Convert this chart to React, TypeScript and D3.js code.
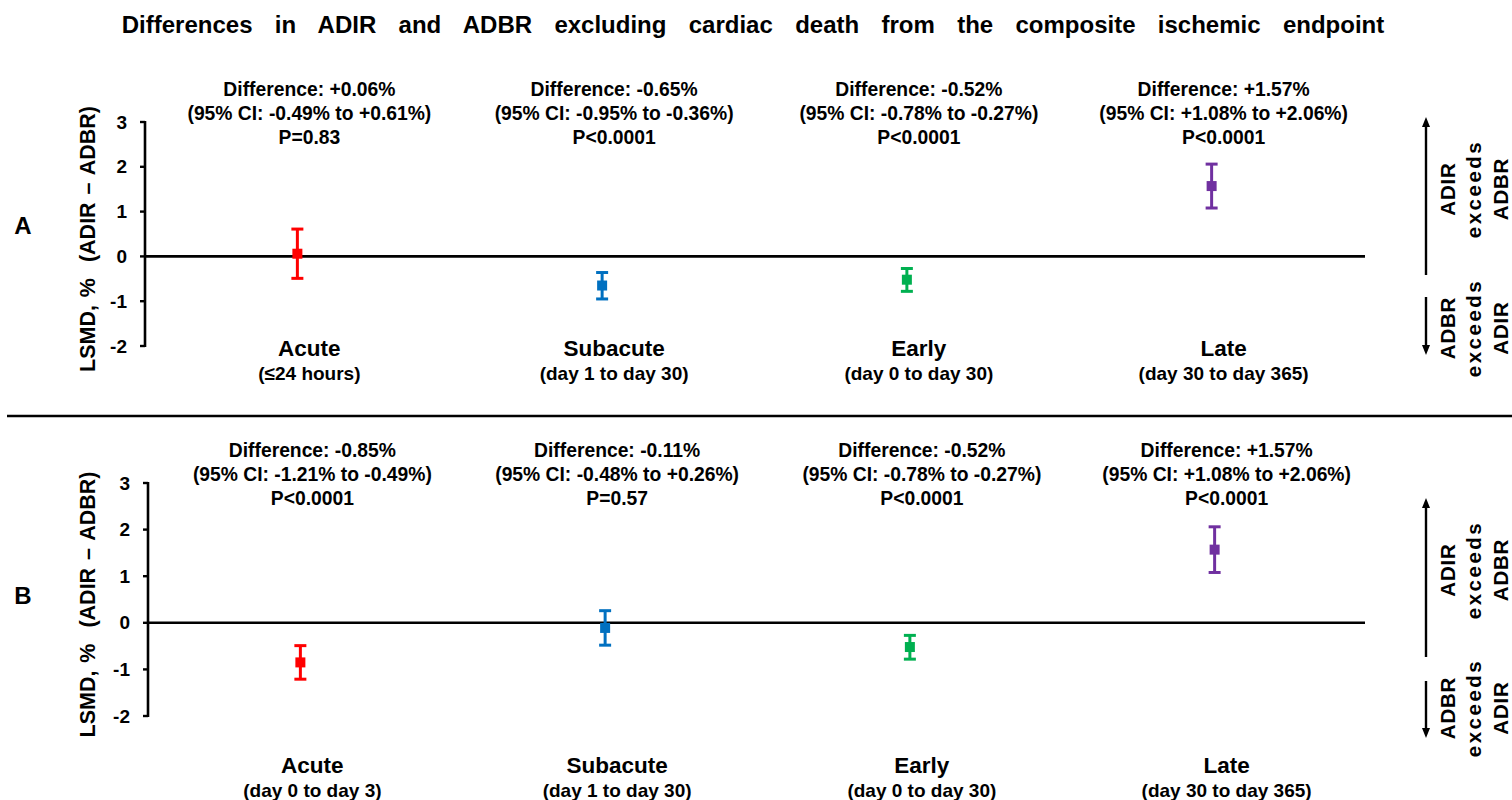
import * as d3 from "d3";

// categories and colours
const categories = ["Acute", "Subacute", "Early", "Late"];
const colors = ["#ff0000", "#0070c0", "#00b050", "#7030a0"];

// panel A values (LSMD, %)
const meanA = [0.06, -0.65, -0.52, 1.57];
const lowA = [-0.49, -0.95, -0.78, 1.08];
const highA = [0.61, -0.36, -0.27, 2.06];
const pA = ["P=0.83", "P<0.0001", "P<0.0001", "P<0.0001"];
const subA = ["(≤24 hours)", "(day 1 to day 30)", "(day 0 to day 30)", "(day 30 to day 365)"];

// panel B values
const meanB = [-0.85, -0.11, -0.52, 1.57];
const lowB = [-1.21, -0.48, -0.78, 1.08];
const highB = [-0.49, 0.26, -0.27, 2.06];
const pB = ["P<0.0001", "P=0.57", "P<0.0001", "P<0.0001"];
const subB = ["(day 0 to day 3)", "(day 1 to day 30)", "(day 0 to day 30)", "(day 30 to day 365)"];

const yTicks = [-2, -1, 0, 1, 2, 3];

const FONT = "'Liberation Sans', Arial, sans-serif";

const fmt = (v: number) => (v > 0 ? "+" : "") + v.toFixed(2) + "%";

interface PanelProps {
  label: string;
  mean: number[];
  low: number[];
  high: number[];
  p: string[];
  sub: string[];
  axisX: number;
  yRange: [number, number];
  annotY: number;
  catY: number;
  labelY: number;
  upArrow: [number, number];
  downArrow: [number, number];
  upTextY: number;
  downTextY: number;
}

function Panel(props: PanelProps) {
  const { mean, low, high, p, sub, axisX } = props;
  const y = d3.scaleLinear().domain([-2, 3]).range(props.yRange);
  const x = d3.scalePoint<string>().domain(categories).range([axisX, axisX + 1219]).padding(0.5);
  const zeroY = y(0);
  const textOff = 12;
  const arrowX = 1426;

  return (
    <g fontFamily={FONT} fontWeight="bold">
      {/* panel letter */}
      <text x={23} y={props.labelY} fontSize={24} textAnchor="middle" dominantBaseline="central">
        {props.label}
      </text>

      {/* y axis title */}
      <text
        transform={`translate(88, ${(y(3) + y(-2)) / 2 + 5}) rotate(-90)`}
        fontSize={21.5}
        textAnchor="middle"
        dominantBaseline="central"
        style={{ whiteSpace: "pre" }}
        wordSpacing={2}
      >
        {"LSMD, %  (ADIR \u2013 ADBR)"}
      </text>

      {/* y axis */}
      <line x1={axisX} x2={axisX} y1={y(3) - 1} y2={y(-2) + 1} stroke="#000" strokeWidth={2.6} />
      {yTicks.map((t) => (
        <g key={t}>
          <line x1={axisX - 5} x2={axisX} y1={y(t)} y2={y(t)} stroke="#000" strokeWidth={2.4} />
          <text x={axisX - 18} y={y(t)} fontSize={19} textAnchor="end" dominantBaseline="central">
            {t}
          </text>
        </g>
      ))}

      {/* zero line */}
      <line x1={axisX} x2={1365} y1={zeroY} y2={zeroY} stroke="#000" strokeWidth={2.6} />

      {/* estimates with 95% CI */}
      {categories.map((c, i) => {
        const cx = x(c)!;
        return (
          <g key={c} stroke={colors[i]} fill={colors[i]}>
            <line x1={cx} x2={cx} y1={y(low[i])} y2={y(high[i])} strokeWidth={3} />
            <line x1={cx - 6} x2={cx + 6} y1={y(low[i])} y2={y(low[i])} strokeWidth={3} />
            <line x1={cx - 6} x2={cx + 6} y1={y(high[i])} y2={y(high[i])} strokeWidth={3} />
            <rect x={cx - 5} y={y(mean[i]) - 5} width={10} height={10} stroke="none" />
          </g>
        );
      })}

      {/* annotations */}
      {categories.map((c, i) => {
        const tx = x(c)! + textOff;
        return (
          <g key={c} fontSize={19.3} textAnchor="middle">
            <text x={tx} y={props.annotY}>{"Difference: " + fmt(mean[i])}</text>
            <text x={tx} y={props.annotY + 24}>{`(95% CI: ${fmt(low[i])} to ${fmt(high[i])})`}</text>
            <text x={tx} y={props.annotY + 48}>{p[i]}</text>
          </g>
        );
      })}

      {/* category labels */}
      {categories.map((c, i) => {
        const tx = x(c)! + textOff;
        return (
          <g key={c} textAnchor="middle">
            <text x={tx} y={props.catY} fontSize={22.5}>{c}</text>
            <text x={tx} y={props.catY + 24} fontSize={19}>{sub[i]}</text>
          </g>
        );
      })}

      {/* direction arrows */}
      <line x1={arrowX} x2={arrowX} y1={props.upArrow[1]} y2={props.upArrow[0] + 6} stroke="#000" strokeWidth={2.4} />
      <path d={`M${arrowX},${props.upArrow[0]} l-4,10 l8,0 z`} fill="#000" />
      <line x1={arrowX} x2={arrowX} y1={props.downArrow[0]} y2={props.downArrow[1] - 6} stroke="#000" strokeWidth={2.4} />
      <path d={`M${arrowX},${props.downArrow[1]} l-4,-10 l8,0 z`} fill="#000" />

      {[
        { cy: props.upTextY, lines: ["ADIR", "exceeds", "ADBR"] },
        { cy: props.downTextY, lines: ["ADBR", "exceeds", "ADIR"] },
      ].map((blk, bi) => (
        <g key={bi}>
          {blk.lines.map((ln, li) => (
            <text
              key={li}
              transform={`translate(${1447 + li * 26.5}, ${blk.cy}) rotate(-90)`}
              fontSize={20.5}
              textAnchor="middle"
              dominantBaseline="central"
              letterSpacing={ln === "exceeds" ? 2.5 : 0.8}
            >
              {ln}
            </text>
          ))}
        </g>
      ))}
    </g>
  );
}

export default function App() {
  return (
    <svg
      width={1512}
      height={800}
      viewBox="0 0 1512 800"
      style={{ position: "absolute", left: 0, top: 0, background: "#fff" }}
    >
      <rect width={1512} height={800} fill="#fff" />
      <text
        x={753}
        y={33}
        fontFamily={FONT}
        fontWeight="bold"
        fontSize={24}
        textAnchor="middle"
        wordSpacing={4.5}
        style={{ whiteSpace: "pre" }}
      >
        {"Differences  in  ADIR  and  ADBR  excluding  cardiac  death  from  the  composite  ischemic  endpoint"}
      </text>

      <Panel
        label="A"
        mean={meanA}
        low={lowA}
        high={highA}
        p={pA}
        sub={subA}
        axisX={145}
        yRange={[346, 122]}
        annotY={96}
        catY={356}
        labelY={225}
        upArrow={[117, 275]}
        downArrow={[297, 355]}
        upTextY={189}
        downTextY={328}
      />

      <line x1={7} x2={1512} y1={416} y2={416} stroke="#000" strokeWidth={2.6} />

      <Panel
        label="B"
        mean={meanB}
        low={lowB}
        high={highB}
        p={pB}
        sub={subB}
        axisX={148}
        yRange={[716, 483]}
        annotY={457}
        catY={773}
        labelY={595}
        upArrow={[498, 657]}
        downArrow={[681, 738]}
        upTextY={570}
        downTextY={708}
      />
    </svg>
  );
}
